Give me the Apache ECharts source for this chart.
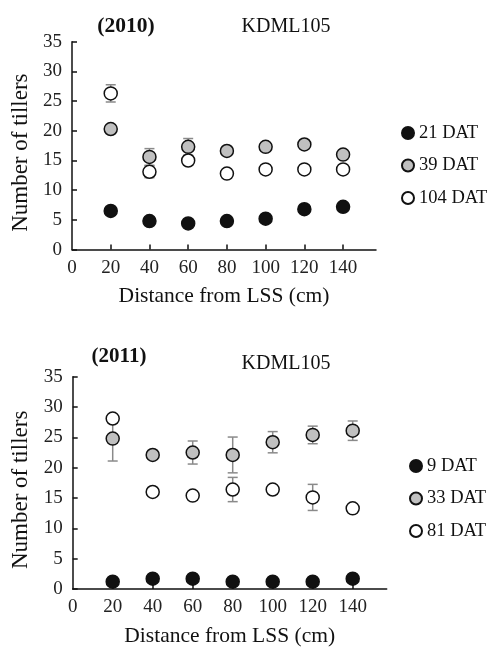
<!DOCTYPE html>
<html>
<head>
<meta charset="utf-8">
<script src="https://cdn.jsdelivr.net/npm/echarts@6/dist/echarts.min.js"></script>
<style>html,body{margin:0;padding:0;background:#fff;}#c{width:490px;height:648px;}</style>
</head>
<body>
<div id="c"></div>
<script>
// ---- data ----
const xTickLabels = [0, 20, 40, 60, 80, 100, 120, 140];
const distance = [20, 40, 60, 80, 100, 120, 140];
// 2010
const dat21 = [6.5, 4.8, 4.4, 4.8, 5.2, 6.8, 7.2];
const dat39 = [20.3, 15.6, 17.3, 16.6, 17.3, 17.7, 16.0];
const dat104 = [26.3, 13.1, 15.0, 12.8, 13.5, 13.5, 13.5];
const err39 = [0, 1.4, 1.4, 0, 0, 0.5, 0];
const err104 = [1.45, 1.0, 0, 0, 0, 0, 0];
// 2011
const dat9 = [1.2, 1.7, 1.7, 1.2, 1.2, 1.2, 1.7];
const dat33 = [24.8, 22.1, 22.5, 22.1, 24.2, 25.4, 26.1];
const dat81 = [28.1, 16.0, 15.4, 16.4, 16.4, 15.1, 13.3];
const err33 = [3.7, 0, 1.9, 2.95, 1.75, 1.45, 1.6];
const err81 = [0, 0, 0, 2.0, 0, 2.15, 0];

const FONT = 'Liberation Serif';
const chart = echarts.init(document.getElementById('c'), null, {renderer: 'canvas'});

function pts(vals) { return distance.map((d, i) => [d, vals[i]]); }
function errPts(vals, errs) { return distance.map((d, i) => [d, vals[i], errs[i]]); }

function errSeries(vals, errs, idx) {
  return {
    type: 'custom', xAxisIndex: idx, yAxisIndex: idx, z: 1, silent: true,
    data: errPts(vals, errs),
    renderItem: function (params, api) {
      const e = api.value(2);
      if (!e) return null;
      const x = api.value(0), y = api.value(1);
      const hi = api.coord([x, y + e]);
      const lo = api.coord([x, y - e]);
      const st = {stroke: '#8a8a8a', lineWidth: 1.5};
      return {type: 'group', children: [
        {type: 'line', shape: {x1: hi[0], y1: hi[1], x2: lo[0], y2: lo[1]}, style: st},
        {type: 'line', shape: {x1: hi[0] - 5, y1: hi[1], x2: hi[0] + 5, y2: hi[1]}, style: st},
        {type: 'line', shape: {x1: lo[0] - 5, y1: lo[1], x2: lo[0] + 5, y2: lo[1]}, style: st}
      ]};
    }
  };
}

function scat(name, vals, idx, fill) {
  return {
    name: name, type: 'scatter', xAxisIndex: idx, yAxisIndex: idx, z: 3,
    symbol: 'circle', symbolSize: 13,
    itemStyle: {color: fill, borderColor: '#111', borderWidth: 1.5, opacity: 1},
    data: pts(vals)
  };
}

function xAxis(idx) {
  return {
    type: 'value', gridIndex: idx, min: 0, max: 157, interval: 20,
    name: 'Distance from LSS (cm)', nameLocation: 'middle', nameGap: 36,
    nameTextStyle: {fontFamily: FONT, fontSize: 21.5, color: '#111'},
    axisLine: {show: true, onZero: false, lineStyle: {color: '#111', width: 1.5}},
    axisTick: {show: true, inside: true, length: 5, lineStyle: {color: '#111', width: 1.5}, customValues: distance},
    axisLabel: {fontFamily: FONT, fontSize: 19, color: '#222', margin: 9, customValues: xTickLabels},
    splitLine: {show: false}
  };
}
function yAxis(idx) {
  return {
    type: 'value', gridIndex: idx, min: 0, max: 35, interval: 5,
    name: 'Number of tillers', nameLocation: 'middle', nameGap: 39,
    nameTextStyle: {fontFamily: FONT, fontSize: 23, color: '#111', padding: [0, 14, 0, 0]},
    axisLine: {show: true, onZero: false, lineStyle: {color: '#111', width: 1.5}},
    axisTick: {show: true, inside: true, length: 5, lineStyle: {color: '#111', width: 1.5}},
    axisLabel: {fontFamily: FONT, fontSize: 19, color: '#222', margin: 10},
    splitLine: {show: false}
  };
}

function legend(names, left, top) {
  return {
    data: names, orient: 'vertical', left: left, top: top, padding: 0,
    itemWidth: 12, itemHeight: 12, itemGap: 12.5, icon: 'circle',
    textStyle: {fontFamily: FONT, fontSize: 18.5, color: '#111', lineHeight: 20}
  };
}

function txt(t, x, y, size, bold) {
  return {type: 'text', x: x, y: y, style: {text: t, fontFamily: FONT, fontSize: size,
    fontWeight: bold ? 'bold' : 'normal', fill: '#111', textAlign: 'center', textVerticalAlign: 'middle'}};
}

chart.setOption({
  backgroundColor: '#fff',
  animation: false,
  grid: [
    {left: 72, right: 114, top: 41.7, bottom: 398.4},
    {left: 72.7, right: 103.3, top: 376.7, bottom: 54.7}
  ],
  xAxis: [xAxis(0), xAxis(1)],
  yAxis: [yAxis(0), yAxis(1)],
  legend: [
    legend(['21 DAT', '39 DAT', '104 DAT'], 401, 123),
    legend(['9 DAT', '33 DAT', '81 DAT'], 409, 456)
  ],
  graphic: [
    txt('(2010)', 126, 26, 21.5, true),
    txt('KDML105', 286, 27, 20, false),
    txt('(2011)', 119, 357, 21, true),
    txt('KDML105', 286, 364, 20, false)
  ],
  series: [
    errSeries(dat39, err39, 0),
    errSeries(dat104, err104, 0),
    scat('21 DAT', dat21, 0, '#111'),
    scat('39 DAT', dat39, 0, '#c0c0c0'),
    scat('104 DAT', dat104, 0, '#fff'),
    errSeries(dat33, err33, 1),
    errSeries(dat81, err81, 1),
    scat('9 DAT', dat9, 1, '#111'),
    scat('33 DAT', dat33, 1, '#c0c0c0'),
    scat('81 DAT', dat81, 1, '#fff')
  ]
});
</script>
</body>
</html>
